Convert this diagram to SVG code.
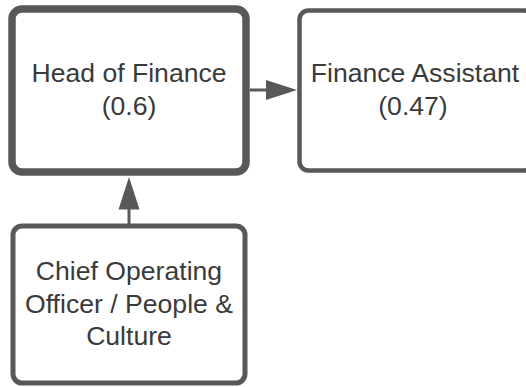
<svg xmlns="http://www.w3.org/2000/svg" width="526" height="387" viewBox="0 0 526 387">
<style>
.box{fill:#fff;stroke:#585858}
.t{font-family:"Liberation Sans",Arial,sans-serif;font-size:26.6px;fill:#3a3a3a;text-anchor:middle}
.c{stroke:#585858;stroke-width:3;fill:none}
.ah{fill:#585858}
</style>
<rect width="526" height="387" fill="#fff"/>
<g id="connectors">
<line class="c" x1="250" y1="90" x2="268" y2="90"/>
<polygon class="ah" points="266,80 297,90 266,100"/>
<line class="c" x1="129" y1="224" x2="129" y2="207"/>
<polygon class="ah" points="118.5,209.5 129,177 139.5,209.5"/>
</g>
<g id="head-of-finance">
<rect class="box" x="12" y="9" width="234" height="163" rx="10" stroke-width="7.5"/>
<text class="t" x="129" y="82">Head of Finance</text>
<text class="t" x="129" y="114.5">(0.6)</text>
</g>
<g id="finance-assistant">
<rect class="box" x="299.5" y="10.5" width="234" height="160" rx="9" stroke-width="4.5"/>
<text class="t" x="415" y="82">Finance Assistant</text>
<text class="t" x="413" y="114.5">(0.47)</text>
</g>
<g id="coo">
<rect class="box" x="13" y="226" width="232" height="157" rx="9" stroke-width="5"/>
<text class="t" x="129" y="280">Chief Operating</text>
<text class="t" x="129" y="312.5">Officer / People &amp;</text>
<text class="t" x="129" y="345">Culture</text>
</g>
</svg>
